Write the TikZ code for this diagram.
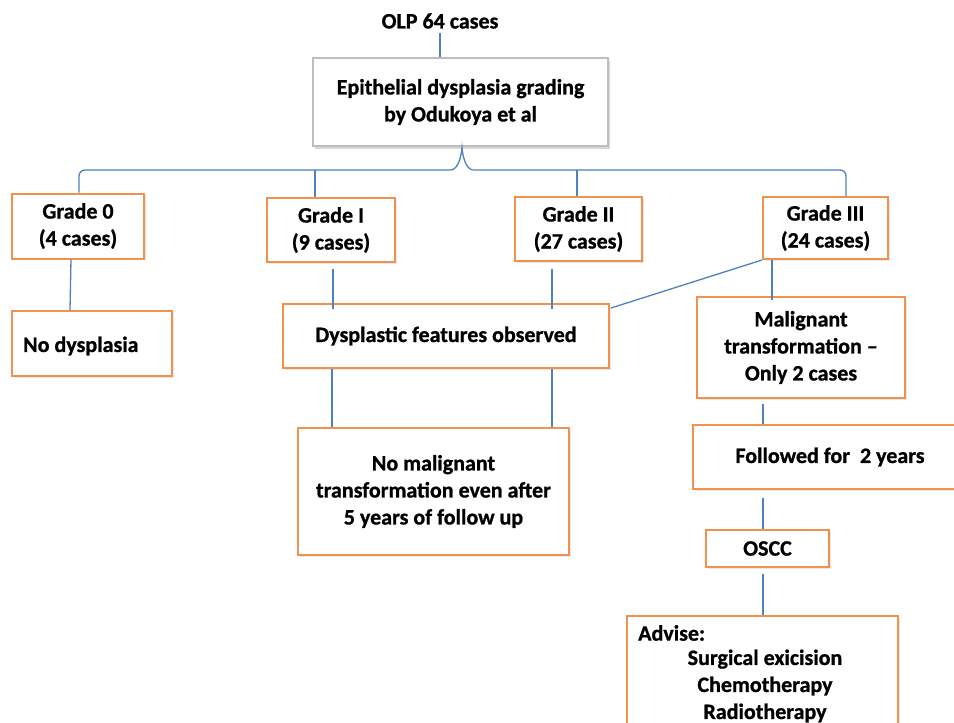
\documentclass[tikz,border=0pt]{standalone}
\usepackage{fontspec}
\setmainfont{Carlito}[BoldFeatures={FakeBold=0.9}]
\usetikzlibrary{shadows}
\definecolor{boxorange}{RGB}{240,146,78}
\definecolor{lineblue}{RGB}{79,129,189}
\definecolor{boxgray}{RGB}{190,190,190}
\tikzset{
  every node/.style={font=\fontsize{22}{27}\selectfont\bfseries},
  obox/.style={draw=boxorange, line width=2pt, fill=white, inner sep=0pt, align=center,
    drop shadow={opacity=0.18, shadow xshift=1.5pt, shadow yshift=-1.5pt}},
  gbox/.style={draw=boxgray, line width=1.5pt, fill=white, inner sep=0pt, align=center,
    drop shadow={opacity=0.3, shadow xshift=2pt, shadow yshift=-2.5pt}},
  conn/.style={draw=lineblue, line width=1.3pt},
  txt/.style={inner sep=0pt, align=center}
}
\begin{document}
\begin{tikzpicture}[x=1pt,y=-1pt]
\useasboundingbox (0,0) rectangle (954,723);
\clip (0,0) rectangle (954,723);
\fill[white] (0,0) rectangle (954,723);

% nodes
\node[txt] (olp) at (440,21) {OLP 64 cases};
\node[gbox, minimum width=295pt, minimum height=88pt] (epi) at (460.5,102)
  {Epithelial dysplasia grading\\by Odukoya et al};
\node[obox, minimum width=132pt, minimum height=65pt] (g0) at (78,226) {Grade 0\\(4 cases)};
\node[obox, minimum width=128pt, minimum height=64pt] (g1) at (331,230) {Grade I\\(9 cases)};
\node[obox, minimum width=127pt, minimum height=64pt] (g2) at (578.5,229) {Grade II\\(27 cases)};
\node[obox, minimum width=125pt, minimum height=62pt] (g3) at (825.5,228) {Grade III\\(24 cases)};
\node[obox, minimum width=160pt, minimum height=65pt] (nod) at (92,343.5) {};
\node[txt, anchor=west] (nodt) at (23,346) {No dysplasia};
\node[obox, minimum width=326pt, minimum height=64pt] (dys) at (446,336) {Dysplastic features observed};
\node[obox, minimum width=208pt, minimum height=101pt] (mal) at (801,347.5)
  {Malignant\\transformation --\\Only 2 cases};
\node[obox, minimum width=271pt, minimum height=127pt] (nomal) at (433.5,491.5)
  {No malignant\\transformation even after\\5 years of follow up};
\node[obox, minimum width=274pt, minimum height=64pt] (fol) at (830,457) {Followed for\ \ 2 years};
\node[obox, minimum width=123pt, minimum height=37pt] (oscc) at (767.5,548.5) {OSCC};
\node[obox, minimum width=271pt, minimum height=130pt] (adv) at (762.5,681) {};
\node[txt, anchor=west] (advt) at (638,633) {Advise:};
\node[txt] (advl) at (765,686) {Surgical exicision\\Chemotherapy\\Radiotherapy};

% connectors
\coordinate (by) at (0,170);
\draw[conn] ([yshift=-4pt]olp.south) -- (olp.south |- epi.north);
\draw[conn, rounded corners=6pt] ([xshift=1pt]g0.north) -- ([xshift=1pt]g0.north |- by) -- ([xshift=-10pt]epi.south |- by);
\draw[conn] ([xshift=-10pt]epi.south |- by) .. controls ([xshift=-2pt]epi.south |- by) and ([xshift=1pt,yshift=-8pt]epi.south) .. ([xshift=1.5pt,yshift=-1pt]epi.south)
  .. controls ([xshift=2pt,yshift=-8pt]epi.south) and ([xshift=5pt]epi.south |- by) .. ([xshift=13pt]epi.south |- by);
\draw[conn, rounded corners=6pt] ([xshift=13pt]epi.south |- by) -- ([xshift=20.5pt]g3.north |- by) -- ([xshift=20.5pt]g3.north);
\draw[conn] ([xshift=-16pt]g1.north) -- ([xshift=-16pt]g1.north |- by);
\draw[conn] ([xshift=-1.5pt]g2.north) -- ([xshift=-1.5pt]g2.north |- by);

\draw[conn] ([xshift=-7pt]g0.south) -- ([xshift=-22pt]nod.north);
\draw[conn] ([xshift=2pt,yshift=-6pt]g1.south) -- ([xshift=-113pt,yshift=-6pt]dys.north);
\draw[conn] ([xshift=-26.5pt,yshift=-7pt]g2.south) -- ([xshift=106pt,yshift=-6pt]dys.north);
\draw[conn] (g3.south west) -- ([xshift=1pt,yshift=-5pt]dys.north east);
\draw[conn] ([xshift=-53.5pt]g3.south) -- ([xshift=-29pt,yshift=-4pt]mal.north);
\draw[conn] ([xshift=-114pt]dys.south) -- ([xshift=-101.5pt]nomal.north);
\draw[conn] ([xshift=106pt]dys.south) -- ([xshift=118.5pt]nomal.north);
\draw[conn] ([xshift=-38pt,yshift=-5pt]mal.south) -- ([xshift=-67pt]fol.north);
\draw[conn] ([xshift=-67pt,yshift=-8pt]fol.south) -- ([xshift=-4.5pt]oscc.north);
\draw[conn] ([xshift=-4.5pt,yshift=-6pt]oscc.south) -- ([xshift=0.5pt]adv.north);
\end{tikzpicture}
\end{document}
